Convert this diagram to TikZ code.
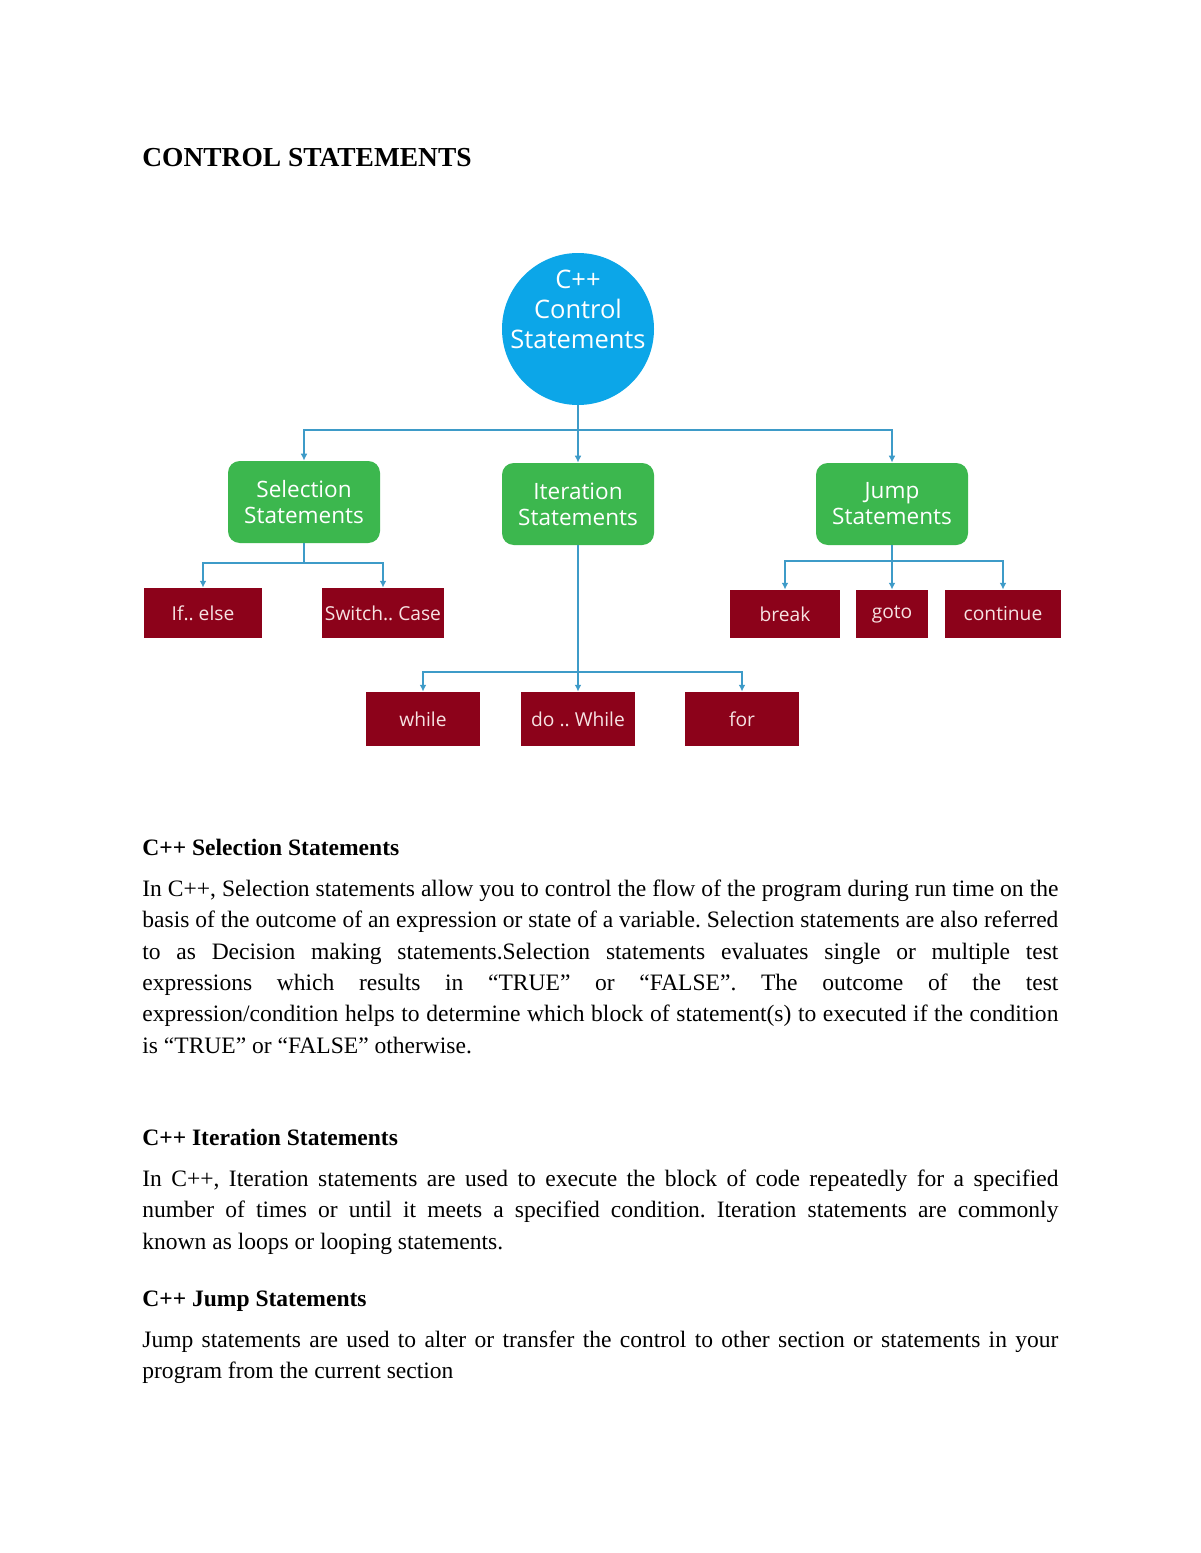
\documentclass[tikz,border=0pt]{standalone}
\usepackage{fontspec}
\setmainfont{Liberation Serif}
\newfontfamily\diagfont{Open Sans}
\usetikzlibrary{arrows.meta,positioning}
\definecolor{rootblue}{RGB}{12,166,232}
\definecolor{groupgreen}{RGB}{60,183,78}
\definecolor{leafred}{RGB}{140,2,26}
\definecolor{leaftext}{RGB}{246,226,226}
\definecolor{linkblue}{RGB}{62,155,200}
\newdimen\px \px=0.51pt
\frenchspacing
\tikzset{x=0.51pt, y=-0.51pt,
    rootnode/.style={circle, fill=rootblue, minimum size=152\px, inner sep=0pt},
    roottext/.style={text=white, align=center, inner sep=0pt,
        font={\diagfont\fontsize{13}{15.3}\selectfont}},
    groupbox/.style={rectangle, rounded corners=6pt, fill=groupgreen, text=white,
        align=center, minimum width=152\px, minimum height=82\px, inner sep=0pt,
        font={\diagfont\fontsize{11.5}{13.3}\selectfont}},
    leafbox/.style={rectangle, fill=leafred, text=leaftext, minimum height=50\px,
        inner sep=0pt, font={\diagfont\fontsize{9.8}{12}\selectfont}},
    link/.style={draw=linkblue, line width=1.1pt, -{Latex[length=3.5pt,width=3.5pt]}},
    bus/.style={draw=linkblue, line width=1.1pt},
    heading/.style={anchor=base west, inner sep=0pt, font={\bfseries\fontsize{12}{16}\selectfont}},
    bodytext/.style={anchor=north west, inner sep=0pt, text width=916\px, align=justify,
        font={\fontsize{12}{16}\selectfont}},
    }
\begin{document}
\begin{tikzpicture}
\useasboundingbox[fill=white] (0,0) rectangle (1200,1553);
% title
\node[anchor=base west, inner sep=0pt, font={\bfseries\fontsize{14}{16}\selectfont}] (title) at (142,167) {CONTROL STATEMENTS};
% root
\node[rootnode] (root) at (578,329) {};
\node[roottext] (rootlabel) at (578,309) {C++\\Control\\Statements};
% groups
\node[groupbox] (sel) at (304,502) {Selection\\Statements};
\node[groupbox] (iter) at (578,504) {Iteration\\Statements};
\node[groupbox] (jump) at (892,504) {Jump\\Statements};
% leaves
\node[leafbox, minimum width=118\px] (ifelse) at (203,613) {If.. else};
\node[leafbox, minimum width=122\px] (switch) at (383,613) {Switch.. Case};
\node[leafbox, minimum width=110\px, minimum height=48\px] (break) at (785,614) {break};
\node[leafbox, minimum width=72\px, minimum height=48\px] (goto) at (892,614) {goto};
\node[leafbox, minimum width=116\px, minimum height=48\px] (continue) at (1003,614) {continue};
\node[leafbox, minimum width=114\px, minimum height=54\px] (while) at (423,719) {while};
\node[leafbox, minimum width=114\px, minimum height=54\px] (dowhile) at (578,719) {do .. While};
\node[leafbox, minimum width=114\px, minimum height=54\px] (for) at (742,719) {for};
% connectors
\coordinate (rootbus) at (578,430);
\coordinate (selbus) at (304,563);
\coordinate (iterbus) at (578,672);
\coordinate (jumpbus) at (892,561);
\draw[link] (root.south) -- (iter.north);
\draw[link] (rootbus) -| (sel.north);
\draw[link] (rootbus) -| (jump.north);
\draw[bus] (sel.south) -- (selbus);
\draw[link] (selbus) -| (ifelse.north);
\draw[link] (selbus) -| (switch.north);
\draw[link] (iter.south) -- (dowhile.north);
\draw[link] (iterbus) -| (while.north);
\draw[link] (iterbus) -| (for.north);
\draw[link] (jump.south) -- (goto.north);
\draw[link] (jumpbus) -| (break.north);
\draw[link] (jumpbus) -| (continue.north);
% text
\node[heading] (selhead) at (142,855) {C++ Selection Statements};
\node[bodytext] (selpara) at (142,874) {\strut In C++, Selection statements allow you to control the flow of the program during run time on the\linebreak basis of the outcome of an expression or state of a variable. Selection statements are also referred\linebreak to as Decision making statements.Selection statements evaluates single or multiple test\linebreak expressions which results in “TRUE” or “FALSE”. The outcome of the test\linebreak expression/condition helps to determine which block of statement(s) to executed if the condition\linebreak is “TRUE” or “FALSE” otherwise.};
\node[heading] (iterhead) at (142,1145) {C++ Iteration Statements};
\node[bodytext] (iterpara) at (142,1164) {\strut In C++, Iteration statements are used to execute the block of code repeatedly for a specified\linebreak number of times or until it meets a specified condition. Iteration statements are commonly\linebreak known as loops or looping statements.};
\node[heading] (jumphead) at (142,1306) {C++ Jump Statements};
\node[bodytext] (jumppara) at (142,1325) {\strut Jump statements are used to alter or transfer the control to other section or statements in your\linebreak program from the current section};
\end{tikzpicture}
\end{document}
